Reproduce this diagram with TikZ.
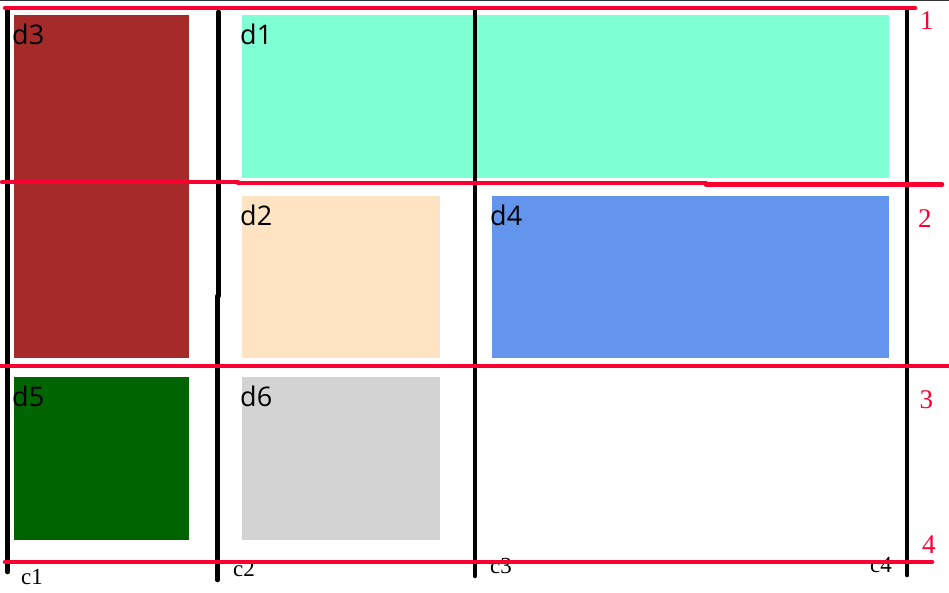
\documentclass[tikz,border=0pt]{standalone}
\usepackage{fontspec}
\setmainfont{Liberation Serif}
\newfontfamily\boxfont{Open Sans}
\definecolor{gridred}{RGB}{250,0,50}
\definecolor{aquamarine}{RGB}{127,255,212}
\definecolor{bisque}{RGB}{255,228,196}
\definecolor{cornflower}{RGB}{100,149,237}
\definecolor{brownish}{RGB}{165,42,42}
\definecolor{darkgreen}{RGB}{0,100,0}
\definecolor{lightgrey}{RGB}{211,211,211}
\begin{document}
\begin{tikzpicture}[x=1pt,y=-1pt,line cap=round,
    colline/.style={line width=4.5pt,black},
    rowline/.style={line width=4.5pt,gridred},
    boxlabel/.style={anchor=base west,inner sep=0pt,font=\boxfont\fontsize{27}{27}\selectfont},
    collabel/.style={anchor=base west,inner sep=0pt,font=\fontsize{23}{23}\selectfont},
    rowlabel/.style={anchor=base west,inner sep=0pt,text=gridred,font=\fontsize{27}{27}\selectfont}]
    \useasboundingbox (0,0) rectangle (949,592);
    \draw[line width=1pt,black!80,line cap=butt] (0,0.5)--(949,0.5);

    % barevné oblasti
    \fill[brownish]   (14,15)  rectangle (189,358);
    \fill[aquamarine] (242,15) rectangle (889,178);
    \fill[bisque]     (242,196) rectangle (440,358);
    \fill[cornflower] (492,196) rectangle (889,358);
    \fill[darkgreen]  (14,377) rectangle (189,540);
    \fill[lightgrey]  (242,377) rectangle (440,540);

    \node[boxlabel] (d3) at (12,44)  {d3};
    \node[boxlabel] (d1) at (240,44) {d1};
    \node[boxlabel] (d2) at (240,225) {d2};
    \node[boxlabel] (d4) at (490,225) {d4};
    \node[boxlabel] (d5) at (12,406) {d5};
    \node[boxlabel] (d6) at (240,406) {d6};

    % svislé čáry sloupců
    \draw[colline] (7.5,10)--(7.5,572);
    \draw[colline] (218.5,12)--(218.5,296);
    \draw[colline] (217.5,296)--(217.5,580);
    \draw[colline] (475,10)--(475,576);
    \draw[colline] (907,11)--(907,575);

    \node[collabel] (c1) at (21,584) {c1};
    \node[collabel] (c2) at (233,576) {c2};
    \node[collabel] (c3) at (490,573) {c3};
    \node[collabel] (c4) at (870,572) {c4};

    % vodorovné čáry řádků
    \draw[rowline] (5,8)--(915,8);
    \draw[rowline] (2,182)--(238,182);
    \draw[rowline] (238,183)--(706,183);
    \draw[rowline] (706,184.5)--(942,184.5);
    \draw[rowline,line cap=butt] (0,366)--(949,366);
    \draw[rowline] (5,562)--(932,562);

    \node[rowlabel] (r1) at (920,29)  {1};
    \node[rowlabel] (r2) at (918,227) {2};
    \node[rowlabel] (r3) at (919.5,408) {3};
    \node[rowlabel] (r4) at (922,553) {4};
\end{tikzpicture}
\end{document}
